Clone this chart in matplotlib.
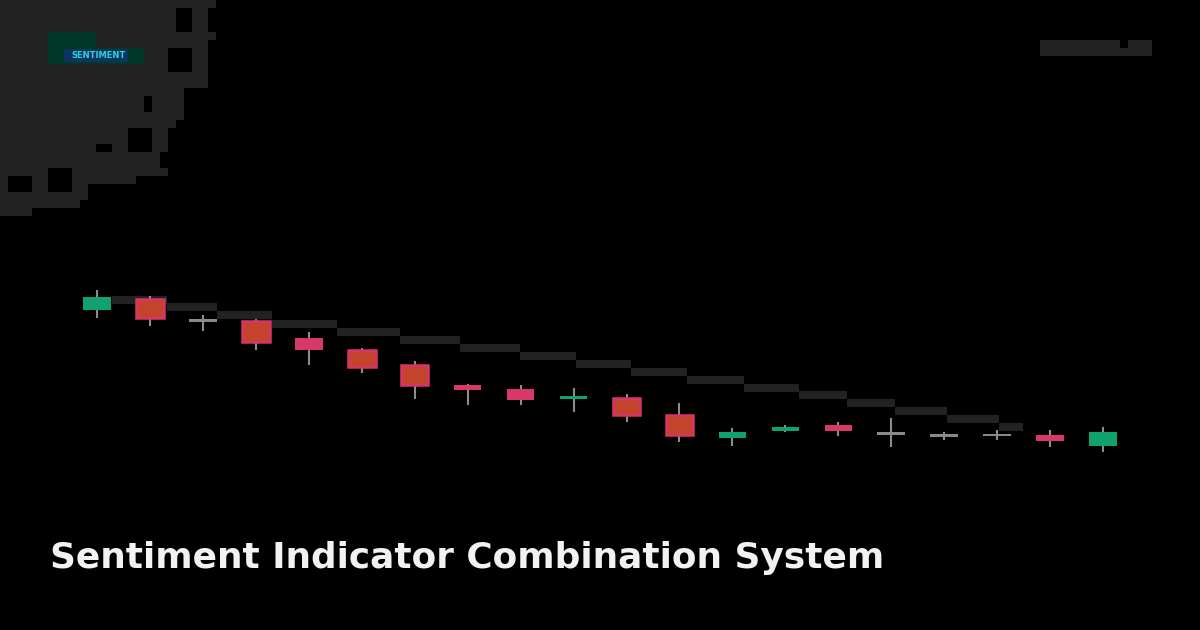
import matplotlib
matplotlib.use("Agg")
import matplotlib.pyplot as plt
from matplotlib.patches import Rectangle

# ---------------- data ----------------
opens  = [95.0, 97.75, 92.5, 92.25, 88.0, 85.0, 81.25, 76.25, 75.25, 72.75,
          73.0, 68.75, 63.0, 64.75, 66.25, 64.25, 63.75, 64.0, 63.75, 61.0]
closes = [98.25, 93.0, 92.25, 87.0, 85.0, 80.75, 76.25, 75.0, 72.5, 73.5,
          68.75, 63.75, 64.5, 65.75, 64.75, 64.0, 63.5, 63.5, 62.25, 64.5]
highs  = [100.0, 98.5, 93.75, 92.75, 89.5, 85.5, 82.25, 76.5, 76.25, 75.5,
          74.0, 71.75, 65.5, 66.25, 67.0, 68.0, 64.5, 65.0, 65.0, 65.75]
lows   = [93.0, 91.0, 89.75, 85.0, 81.25, 79.25, 72.75, 71.25, 71.25, 69.5,
          67.0, 62.0, 61.0, 64.5, 63.5, 60.75, 62.5, 62.5, 60.75, 59.5]

# stepped trend line (segment start/end in candle index units, level)
step_starts = [0.28, 1.32, 2.26, 3.30, 4.53, 5.72, 6.85, 7.98, 9.04, 10.09,
               11.15, 12.21, 13.26, 14.17, 15.08, 16.06, 17.04]
step_ends   = [1.32, 2.26, 3.30, 4.53, 5.72, 6.85, 7.98, 9.04, 10.09, 11.15,
               12.21, 13.26, 14.17, 15.08, 16.06, 17.04, 17.49]
step_levels = [97.5, 95.75, 93.75, 91.5, 89.5, 87.5, 85.5, 83.5, 81.5, 79.5,
               77.5, 75.5, 73.75, 71.75, 69.75, 67.75, 65.75]

title = "Sentiment Indicator Combination System"
logo_text = "SENTIMENT"

# ---------------- styling ----------------
W, H = 1200, 630
BG = "#000000"
DECO = "#222222"
GREEN = "#10a36e"
RED = "#c4432d"
RED_EDGE = "#d9346a"
PINK = "#d63868"
DOJI = "#8a8a8a"
WICK = "#8c8c8c"

fig = plt.figure(figsize=(W / 100, H / 100), dpi=100, facecolor=BG)

# decoration layer in pixel coordinates
deco = fig.add_axes([0, 0, 1, 1], zorder=0)
deco.set_xlim(0, W)
deco.set_ylim(H, 0)
deco.axis("off")
deco.set_facecolor(BG)

# pixel-art staircase (row top y, right edge x), 8px rows
rows = [(0, 216), (8, 208), (16, 208), (24, 208), (32, 216), (40, 208), (48, 208),
        (56, 208), (64, 208), (72, 208), (80, 208), (88, 184), (96, 184), (104, 184),
        (112, 184), (120, 176), (128, 168), (136, 168), (144, 168), (152, 160),
        (160, 160), (168, 152), (176, 136), (184, 88), (192, 88), (200, 80), (208, 40)]
for y0, xr in rows:
    deco.add_patch(Rectangle((0, y0), xr, 8, color=DECO, lw=0))
holes = [(176, 8, 16, 24), (168, 48, 24, 24), (144, 96, 8, 16), (128, 128, 24, 24),
         (96, 144, 16, 8), (48, 168, 24, 24), (8, 176, 24, 16), (32, 208, 8, 8)]
for hx, hy, hw, hh in holes:
    deco.add_patch(Rectangle((hx, hy), hw, hh, color=BG, lw=0))
deco.add_patch(Rectangle((152, 168), 16, 8, color=DECO, lw=0))

# logo
deco.add_patch(Rectangle((48, 32), 48, 32, color="#00382a", lw=0))
deco.add_patch(Rectangle((96, 48), 48, 16, color="#00382a", lw=0))
deco.add_patch(Rectangle((64, 49), 64, 13, color="#0b3560", lw=0))
deco.text(99, 55.5, logo_text, color="#2ad4d8", fontsize=6.0, fontweight="bold",
          ha="center", va="center", family="DejaVu Sans")

# top-right bar
deco.add_patch(Rectangle((1040, 40), 112, 16, color=DECO, lw=0))
deco.add_patch(Rectangle((1120, 40), 8, 8, color=BG, lw=0))

# ---------------- candle chart ----------------
ax = fig.add_axes([0, 0, 1, 1], zorder=1)
ax.patch.set_alpha(0)
ax.axis("off")
px_per_idx = 52.95
x0_px = 97
ax.set_xlim(-x0_px / px_per_idx, (W - x0_px) / px_per_idx)
# price = 100 - (y_px - 290)/4
ax.set_ylim(100 - (H - 290) / 4, 100 + 290 / 4)

ax.hlines(step_levels, step_starts, step_ends, color=DECO, lw=5.8, zorder=1)

bw = 0.52
for i, (o, c, h, l) in enumerate(zip(opens, closes, highs, lows)):
    body = abs(c - o)
    ax.vlines(i, l, h, color=WICK, lw=1.5, zorder=2)
    bottom = min(o, c)
    if body <= 0.5:
        ax.add_patch(Rectangle((i - bw / 2, (o + c) / 2 - 0.35), bw, 0.7,
                               facecolor=DOJI, edgecolor="none", zorder=3))
    elif c > o:
        ax.add_patch(Rectangle((i - bw / 2, bottom), bw, body,
                               facecolor=GREEN, edgecolor="none", zorder=3))
    elif body >= 4:
        ax.add_patch(Rectangle((i - bw / 2, bottom), bw, body,
                               facecolor=RED, edgecolor=RED_EDGE, lw=1.8, zorder=3))
    else:
        ax.add_patch(Rectangle((i - bw / 2, bottom), bw, body,
                               facecolor=PINK, edgecolor="none", zorder=3))

# ---------------- title ----------------
fig.text(50 / W, 1 - 568 / H, title, color="#f2f2f2", fontsize=25.8,
         fontweight="bold", family="DejaVu Sans", ha="left", va="baseline")

fig.savefig("out.png", dpi=100, facecolor=BG)
